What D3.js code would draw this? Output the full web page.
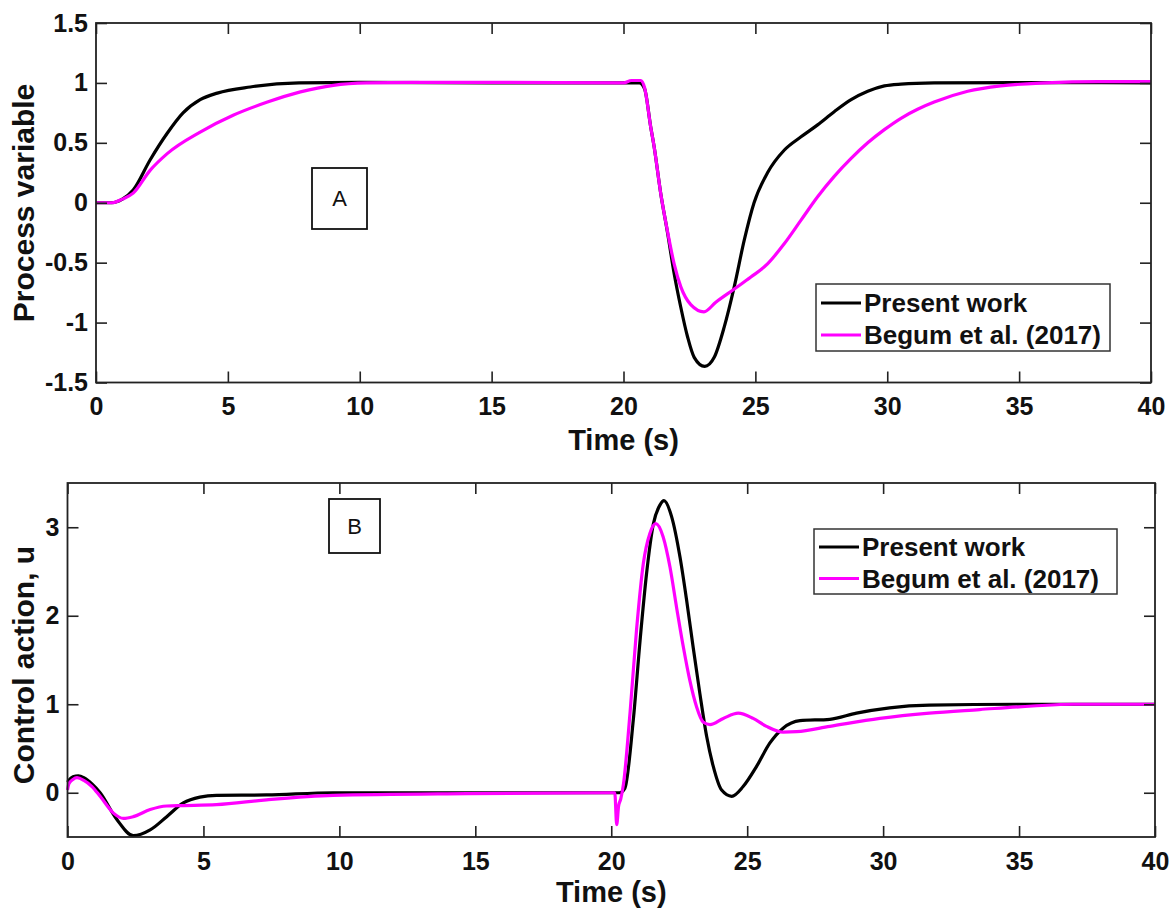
<!DOCTYPE html>
<html>
<head>
<meta charset="utf-8">
<script src="https://cdn.jsdelivr.net/npm/d3@7"></script>
<style>
html,body{margin:0;padding:0;background:#fff;}
svg{display:block;}
</style>
</head>
<body>
<svg id="chart" width="1171" height="909"></svg>
<script>
// ---------- DATA ----------
// Panel A : process variable
const timeA_present = [0,0.6,1.0,1.41,2.05,2.7,3.3,3.95,4.6,5.85,7.7,10,15,20,20.6,20.8,21.03,21.16,21.41,21.67,21.92,22.17,22.43,22.68,23.08,23.44,23.82,24.2,24.58,24.95,25.46,26.1,26.73,27.36,27.99,28.63,29.26,29.89,30.52,31.78,35,40];
const pvA_present   = [0,0,0.03,0.106,0.357,0.58,0.75,0.86,0.915,0.966,1.0,1.005,1.0,1.0,1.0,0.95,0.635,0.47,0.08,-0.25,-0.59,-0.87,-1.12,-1.29,-1.366,-1.29,-1.036,-0.70,-0.31,0.0,0.25,0.44,0.55,0.65,0.76,0.86,0.93,0.975,0.99,1.0,1.003,1.0];
const timeA_begum   = [0,0.6,1.0,1.41,2.05,2.7,3.95,5.2,6.5,7.75,9.0,10.3,12,15,20,20.3,20.65,20.8,21.03,21.16,21.41,21.67,21.92,22.17,22.55,23.05,23.5,24.2,24.83,25.46,26.1,26.73,27.36,27.99,28.63,29.26,29.89,30.52,31.15,31.78,33.05,34.3,36,38,40];
const pvA_begum     = [0,0,0.03,0.08,0.27,0.41,0.59,0.73,0.84,0.925,0.98,1.0,1.005,1.005,1.0,1.02,1.02,0.96,0.635,0.47,0.08,-0.24,-0.51,-0.70,-0.85,-0.91,-0.83,-0.72,-0.62,-0.51,-0.34,-0.145,0.05,0.22,0.37,0.50,0.61,0.705,0.78,0.84,0.93,0.975,1.0,1.01,1.01];

// Panel B : control action
const timeB_present = [0,0.2,0.4,0.6,0.9,1.2,1.81,2.42,3.04,3.65,4.26,4.87,5.48,7.32,9.77,12,15,20,20.3,20.5,20.81,21.06,21.3,21.55,21.79,21.94,22.22,22.53,22.77,23.01,23.26,23.51,23.75,24.06,24.43,24.85,25.35,25.83,26.32,26.94,28.04,29.02,30.24,31.7,35,40];
const uB_present    = [0.12,0.18,0.19,0.17,0.1,0.0,-0.30,-0.485,-0.42,-0.27,-0.115,-0.05,-0.03,-0.025,0.0,0.0,0.0,0.0,0.0,0.05,0.82,1.72,2.48,3.04,3.25,3.30,3.12,2.66,2.18,1.65,1.12,0.635,0.30,0.03,-0.04,0.07,0.30,0.56,0.73,0.815,0.83,0.90,0.96,0.99,1.0,1.0];
const timeB_begum   = [0,0.05,0.2,0.35,0.6,0.9,1.2,1.69,2.06,2.42,3.04,3.65,4.26,5.48,7.32,9.77,14.7,20,20.13,20.2,20.27,20.35,20.45,20.69,20.93,21.18,21.42,21.64,21.91,22.16,22.4,22.65,22.89,23.14,23.38,23.63,24.12,24.67,25.22,25.71,26.32,26.82,28.04,29.88,31.7,33.55,35.5,37,40];
const uB_begum      = [0.03,0.1,0.15,0.17,0.14,0.07,-0.04,-0.23,-0.29,-0.27,-0.19,-0.15,-0.145,-0.135,-0.08,-0.03,-0.01,0.0,0.0,-0.36,-0.15,-0.07,0.1,0.9,1.84,2.59,2.93,3.04,2.89,2.55,2.10,1.65,1.27,0.97,0.80,0.77,0.84,0.90,0.84,0.75,0.685,0.69,0.75,0.84,0.90,0.94,0.98,1.0,1.0];

const xTicks  = [0,5,10,15,20,25,30,35,40];
const yTicksA = [-1.5,-1,-0.5,0,0.5,1,1.5];
const yTicksB = [0,1,2,3];
const seriesNames = ["Present work","Begum et al. (2017)"];
const seriesColors = ["#000000","#ff00ff"];

// ---------- DRAWING ----------
const svg = d3.select("#chart");
const FONT = "'Liberation Sans', Arial, Helvetica, sans-serif";

function panel(cfg){
  const x = d3.scaleLinear().domain([0,40]).range([cfg.left,cfg.right]);
  const y = d3.scaleLinear().domain(cfg.ydom).range([cfg.bottom,cfg.top]);
  const g = svg.append("g");
  const fmt = d => String(d);
  const TS = 11;

  // curves
  const line = d3.line().x(d=>x(d[0])).y(d=>y(d[1])).curve(d3.curveMonotoneX);
  cfg.series.forEach((s,i)=>{
    g.append("path")
      .datum(d3.zip(s.t, s.v))
      .attr("d", line)
      .attr("fill","none")
      .attr("stroke", seriesColors[i])
      .attr("stroke-width", 3.2)
      .attr("stroke-linejoin","round");
  });

  // axes
  const axB = g.append("g").attr("transform",`translate(0,${cfg.bottom})`)
    .call(d3.axisBottom(x).tickValues(xTicks).tickSizeInner(-TS).tickSizeOuter(0).tickPadding(15).tickFormat(fmt));
  const axT = g.append("g").attr("transform",`translate(0,${cfg.top})`)
    .call(d3.axisTop(x).tickValues(xTicks).tickSizeInner(-TS).tickSizeOuter(0).tickFormat(""));
  const axL = g.append("g").attr("transform",`translate(${cfg.left},0)`)
    .call(d3.axisLeft(y).tickValues(cfg.yticks).tickSizeInner(-TS).tickSizeOuter(0).tickPadding(8).tickFormat(fmt));
  const axR = g.append("g").attr("transform",`translate(${cfg.right},0)`)
    .call(d3.axisRight(y).tickValues(cfg.yticks).tickSizeInner(-TS).tickSizeOuter(0).tickFormat(""));
  [axB,axT,axL,axR].forEach(a=>{
    a.select(".domain").remove();
    a.selectAll(".tick line").attr("stroke","#222").attr("stroke-width",1.6);
    a.selectAll("text").attr("font-family",FONT).attr("font-weight","bold")
      .attr("font-size",25).attr("fill","#111");
  });

  // frame
  g.append("rect").attr("x",cfg.left).attr("y",cfg.top)
    .attr("width",cfg.right-cfg.left).attr("height",cfg.bottom-cfg.top)
    .attr("fill","none").attr("stroke","#222").attr("stroke-width",1.8);

  // axis labels
  g.append("text").attr("x",(cfg.left+cfg.right)/2).attr("y",cfg.xlabelY)
    .attr("text-anchor","middle").attr("font-family",FONT).attr("font-weight","bold")
    .attr("font-size",29).attr("fill","#111").text("Time (s)");
  g.append("text")
    .attr("transform",`translate(${cfg.ylabelX},${cfg.ylabelY}) rotate(-90)`)
    .attr("text-anchor","middle").attr("dominant-baseline","central")
    .attr("font-family",FONT).attr("font-weight","bold")
    .attr("font-size",30).attr("fill","#111").text(cfg.ylabel);

  // legend
  const L = cfg.legend;
  g.append("rect").attr("x",L.x).attr("y",L.y).attr("width",L.w).attr("height",L.h)
    .attr("fill","#fff").attr("stroke","#333").attr("stroke-width",1.5);
  seriesNames.forEach((nm,i)=>{
    const yy = L.y + L.row0 + i*L.dy;
    g.append("line").attr("x1",L.x+5).attr("x2",L.x+45).attr("y1",yy).attr("y2",yy)
      .attr("stroke",seriesColors[i]).attr("stroke-width",3.2);
    g.append("text").attr("x",L.x+48).attr("y",yy).attr("dy","0.36em")
      .attr("font-family",FONT).attr("font-weight","bold").attr("font-size",26)
      .attr("fill","#111").text(nm);
  });

  // panel tag box
  const B = cfg.tag;
  g.append("rect").attr("x",B.x).attr("y",B.y).attr("width",B.w).attr("height",B.h)
    .attr("fill","#fff").attr("stroke","#111").attr("stroke-width",1.8);
  g.append("text").attr("x",B.x+B.w/2).attr("y",B.y+B.h/2).attr("dy","0.36em")
    .attr("text-anchor","middle").attr("font-family",FONT).attr("font-size",22)
    .attr("fill","#111").text(B.label);
}

panel({
  left:96, right:1151, top:23, bottom:382.5, ydom:[-1.5,1.5], yticks:yTicksA,
  series:[{t:timeA_present,v:pvA_present},{t:timeA_begum,v:pvA_begum}],
  xlabelY:450, ylabelX:23, ylabelY:203, ylabel:"Process variable",
  legend:{x:816,y:284,w:294,h:67,row0:19,dy:32},
  tag:{x:312,y:168,w:55,h:61,label:"A"}
});

panel({
  left:67.5, right:1155, top:483, bottom:837, ydom:[-0.5,3.5], yticks:yTicksB,
  series:[{t:timeB_present,v:uB_present},{t:timeB_begum,v:uB_begum}],
  xlabelY:902, ylabelX:23, ylabelY:665, ylabel:"Control action, u",
  legend:{x:814,y:529,w:303,h:65,row0:18,dy:31.5},
  tag:{x:329,y:499,w:51,h:54,label:"B"}
});
</script>
</body>
</html>
